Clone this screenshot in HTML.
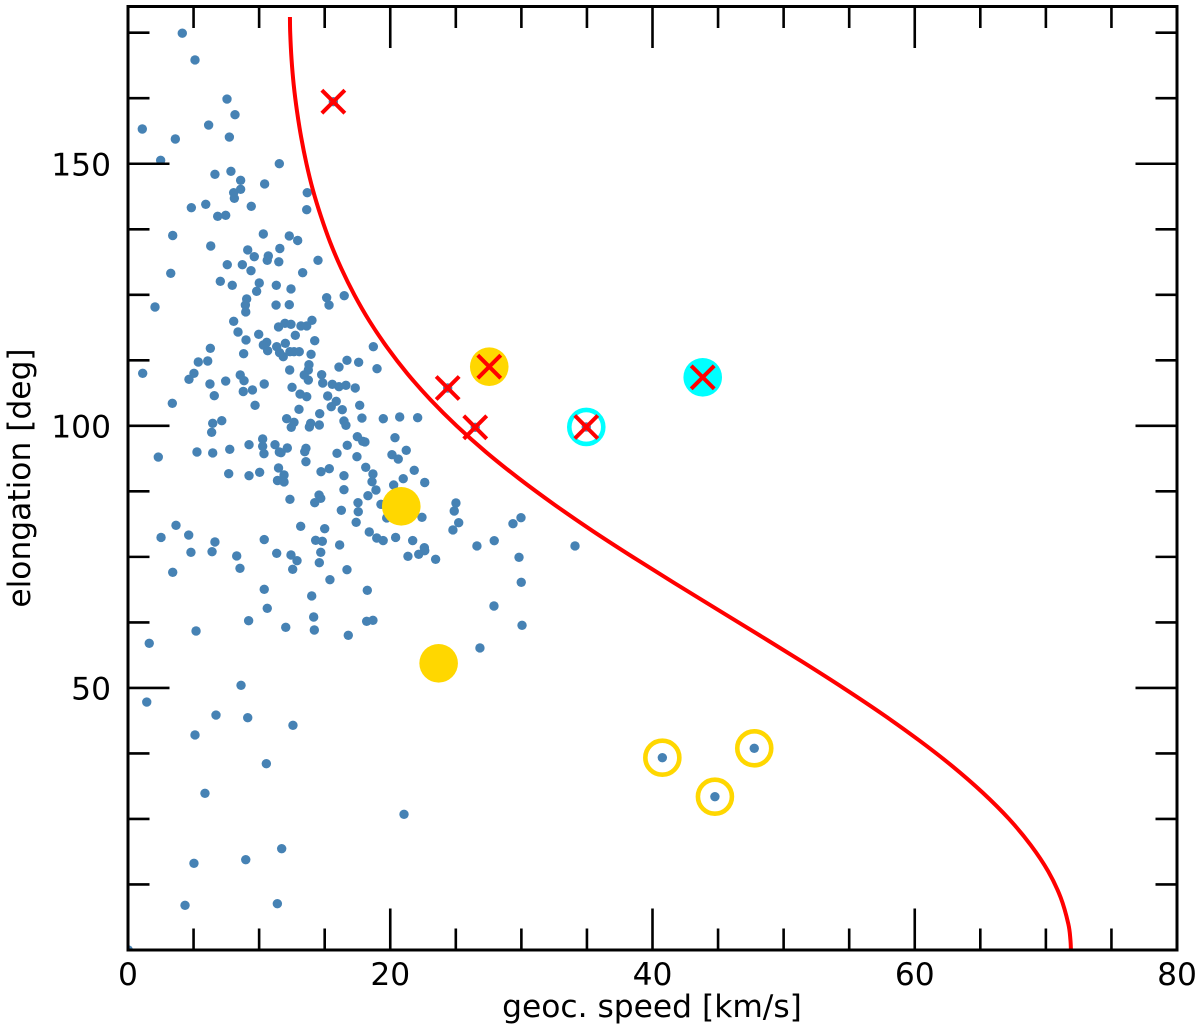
<!DOCTYPE html>
<html lang="en">
<head>
<meta charset="utf-8">
<title>Elongation versus geocentric speed</title>
<style>
html,body{margin:0;padding:0;background:#fff;width:1200px;height:1030px;overflow:hidden}
svg{display:block}
text{font-family:"DejaVu Sans","Liberation Sans",sans-serif;font-size:31.3px;fill:#000}
</style>
</head>
<body>
<svg id="chart" xmlns="http://www.w3.org/2000/svg" width="1200" height="1030" viewBox="0 0 1200 1030">
  <defs>
    <clipPath id="plot-clip"><rect x="128" y="6.5" width="1049" height="943.5"></rect></clipPath>
  </defs>
  <rect x="0" y="0" width="1200" height="1030" fill="#fff"></rect>
  <g id="meteors" clip-path="url(#plot-clip)"></g>
  <g id="highlights" clip-path="url(#plot-clip)"></g>
  <path id="limit" fill="none" stroke="#ff0000" stroke-width="4" clip-path="url(#plot-clip)"></path>
  <g id="crosses"></g>
  <g id="ticks"></g>
  <rect x="128" y="6.5" width="1049" height="943.5" fill="none" stroke="#000" stroke-width="3"></rect>
  <g id="labels"></g>
  <text x="652" y="1017" text-anchor="middle">geoc. speed [km/s]</text>
  <text transform="translate(30,478) rotate(-90)" text-anchor="middle">elongation [deg]</text>
</svg>
<script>
const xTickLabels = [0, 20, 40, 60, 80];
const yTickLabels = [50, 100, 150];
const xMinorTicks = [5, 10, 15, 25, 30, 35, 45, 50, 55, 65, 70, 75];
const yMinorTicks = [12.5, 25, 37.5, 62.5, 75, 87.5, 112.5, 125, 137.5, 162.5, 175];

const speedValues = [
4.14,5.11,7.55,8.16,6.15,1.09,3.61,7.73,2.49,11.54,6.63,7.85,8.59,10.42,8.59,8.06,8.11,13.67,13.63,9.40,
5.93,4.83,6.84,7.45,3.41,10.32,12.30,12.94,15.66,6.31,9.13,9.63,10.70,10.62,11.58,11.50,7.57,8.72,9.38,3.26,
7.04,7.95,10.01,9.81,11.31,9.05,8.95,8.98,11.29,2.06,8.06,11.48,8.39,9.97,9.00,10.58,10.32,10.65,11.34,11.56,
6.28,8.82,6.08,5.36,5.03,4.65,1.12,8.56,8.85,6.25,7.45,10.39,8.79,9.49,14.49,13.32,12.43,15.15,15.33,16.49,
12.30,14.03,11.97,12.43,13.19,13.63,12.76,14.24,18.71,12.00,11.84,12.35,12.66,13.06,13.96,16.70,16.09,17.59,18.99,13.80,
13.75,13.44,13.75,12.33,14.77,14.85,15.58,16.09,16.62,17.33,12.51,6.58,3.38,9.69,7.15,6.46,6.38,10.27,9.23,10.27,
11.21,10.37,11.54,7.76,5.26,6.46,2.31,7.68,9.23,10.04,11.48,11.40,3.66,2.52,4.63,6.63,10.39,13.12,13.63,15.23,
15.88,15.50,16.34,17.67,13.04,14.62,17.84,19.47,20.72,22.09,12.10,12.66,12.45,13.93,13.83,14.59,16.47,16.62,17.49,18.07,
17.90,20.36,16.72,12.15,11.67,13.57,13.48,15.94,17.46,20.13,20.61,21.22,13.57,18.13,21.83,15.35,14.72,11.90,16.47,18.68,
20.99,18.61,11.90,22.63,20.26,18.91,16.47,18.30,12.35,14.57,14.70,14.24,17.54,19.29,17.56,16.27,19.73,22.42,17.40,13.17,
15.00,18.40,20.41,18.97,19.46,14.31,14.82,21.71,16.14,4.80,6.41,8.29,11.34,12.43,12.89,14.70,14.59,8.54,12.56,3.41,
16.70,15.40,10.39,14.01,10.62,14.16,9.20,12.03,14.21,5.19,16.80,1.62,8.62,1.43,6.71,9.13,12.58,5.11,10.55,5.87,
21.05,11.72,8.98,5.03,4.35,11.39,0.02,25.01,24.88,25.22,24.78,29.97,29.36,34.09,22.60,22.63,22.17,21.35,23.46,26.61,
27.93,29.82,29.99,18.25,27.91,18.68,18.20,30.05,26.84,24.38,26.48,34.95,40.75,47.76,44.76
];
const elongationValues = [
174.9,169.8,162.35,159.36,157.39,156.63,154.72,155.1,150.66,150.01,147.99,148.56,146.84,146.14,145.13,144.48,143.41,144.48,141.23,141.88,
142.27,141.62,139.97,140.17,136.31,136.6,136.22,135.36,161.84,134.31,133.55,132.27,132.4,131.58,133.83,131.3,130.74,130.74,129.6,129.1,
127.57,126.81,127.25,125.67,126.81,124.2,123.05,121.72,123.05,122.67,119.94,118.86,117.9,117.46,116.38,115.94,115.42,114.33,115.1,113.95,
114.79,113.76,112.37,112.18,110.02,108.88,110.02,109.7,108.61,107.98,108.55,107.98,106.55,106.84,131.58,129.22,126.11,124.45,123.05,124.83,
123.11,120.14,119.56,119.37,119.05,119.05,117.27,116.24,115.1,115.75,113.19,114.14,114.14,114.14,113.65,112.5,111.22,112.12,110.9,111.66,
110.65,109.7,108.74,110.65,109.76,108.17,107.92,107.47,107.73,107.22,107.35,105.75,104.3,103.92,100.98,100.48,98.77,97.49,96.4,96.1,
96.4,94.68,95.01,95.52,95.01,94.82,94.05,90.87,90.49,91.14,91.96,89.57,81.02,78.7,79.17,77.84,78.31,106.07,105.56,105.69,
104.68,103.65,103.08,103.92,103.15,102.32,101.49,101.36,101.69,101.55,101.36,100.68,99.72,100.48,99.78,100.16,100.92,100.1,97.93,96.92,
97.05,97.74,96.29,95.77,94.88,95.71,95.07,94.76,94.11,94.49,93.67,95.33,93.16,92.09,91.52,91.82,91.25,90.62,90.49,90.81,
89.91,89.34,89.29,89.19,88.71,87.76,87.82,86.67,85.98,86.8,86.18,85.34,85.34,85.03,83.62,83.89,82.42,82.55,81.6,80.83,
80.38,79.75,78.7,78.6,78.12,78.16,77.97,78.12,77.27,75.87,75.99,75.17,75.68,75.36,74.27,75.87,73.89,72.82,72.63,72.06,
72.55,70.65,68.81,67.54,65.19,63.53,62.82,61.56,61.05,60.86,60.04,58.51,50.5,47.31,44.83,44.32,42.87,41.02,35.54,29.9,
25.89,19.33,17.23,16.54,8.53,8.83,0,85.28,83.75,81.52,80.13,82.47,81.33,77.08,76.75,76.18,75.49,75.11,74.54,77.08,
78.09,74.92,70.15,68.62,65.63,62.9,62.71,61.95,57.62,107.22,99.72,99.78,36.69,38.48,29.25
];

const limitElongation = [0,2,5,10,15,20,25,30,35,40,45,50,55,60,65,70,75,80,85,90,95,100,105,110,115,120,125,130,135,140,145,150,155,160,165,170,175,178];
const limitSpeed = [71.91,71.87,71.71,71.13,70.18,68.85,67.19,65.19,62.90,60.33,57.54,54.55,51.42,48.19,44.93,41.67,38.48,35.40,32.50,29.79,27.30,25.06,23.06,21.29,19.75,18.41,17.26,16.27,15.42,14.71,14.10,13.61,13.21,12.89,12.64,12.47,12.37,12.35];

const goldDiscSpeed = [27.55, 20.84, 23.69];
const goldDiscElongation = [111.28, 84.65, 54.7];
const goldRingSpeed = [40.75, 47.76, 44.76];
const goldRingElongation = [36.69, 38.48, 29.25];
const cyanDiscSpeed = [43.83];
const cyanDiscElongation = [109.26];
const cyanRingSpeed = [34.95];
const cyanRingElongation = [99.78];
const crossSpeed = [15.66, 24.38, 26.48, 27.55, 34.95, 43.83];
const crossElongation = [161.84, 107.22, 99.72, 111.28, 99.78, 109.26];

const SVG_NS = 'http://www.w3.org/2000/svg';
const X0 = 128, X_PER_UNIT = 1049 / 80;
const Y0 = 950, Y_PER_UNIT = 943.5 / 180;
function sx(v) { return X0 + v * X_PER_UNIT; }
function sy(v) { return Y0 - v * Y_PER_UNIT; }
function make(tag, attrs, parent) {
  const el = document.createElementNS(SVG_NS, tag);
  for (const k in attrs) el.setAttribute(k, attrs[k]);
  parent.appendChild(el);
  return el;
}

const meteors = document.getElementById('meteors');
speedValues.forEach(function (s, i) {
  const el = make('circle', {cx: sx(s), cy: sy(elongationValues[i]), r: 4.7, fill: '#4682b4'}, meteors);
  
  
});

const highlights = document.getElementById('highlights');
goldDiscSpeed.forEach(function (s, i) {
  const el = make('circle', {cx: sx(s), cy: sy(goldDiscElongation[i]), r: 19.3, fill: '#ffd700'}, highlights);
  
  
});
goldRingSpeed.forEach(function (s, i) {
  const el = make('circle', {cx: sx(s), cy: sy(goldRingElongation[i]), r: 17, fill: 'none', stroke: '#ffd700', 'stroke-width': 4.6}, highlights);
  
  
});
cyanDiscSpeed.forEach(function (s, i) {
  const el = make('circle', {cx: sx(s), cy: sy(cyanDiscElongation[i]), r: 19.3, fill: '#00ffff'}, highlights);
  
  
});
cyanRingSpeed.forEach(function (s, i) {
  const el = make('circle', {cx: sx(s), cy: sy(cyanRingElongation[i]), r: 17, fill: 'none', stroke: '#00ffff', 'stroke-width': 4.6}, highlights);
  
  
});

// Smooth the read-off limit curve with a Catmull-Rom spline through its points.
const curvePts = limitSpeed.map(function (s, i) { return [sx(s), sy(limitElongation[i])]; });
let curvePath = 'M' + curvePts[0][0] + ' ' + curvePts[0][1];
for (let i = 0; i < curvePts.length - 1; i++) {
  const p0 = curvePts[Math.max(i - 1, 0)], p1 = curvePts[i], p2 = curvePts[i + 1], p3 = curvePts[Math.min(i + 2, curvePts.length - 1)];
  curvePath += ' C' + (p1[0] + (p2[0] - p0[0]) / 6) + ' ' + (p1[1] + (p2[1] - p0[1]) / 6) + ' ' +
    (p2[0] - (p3[0] - p1[0]) / 6) + ' ' + (p2[1] - (p3[1] - p1[1]) / 6) + ' ' + p2[0] + ' ' + p2[1];
}
document.getElementById('limit').setAttribute('d', curvePath);

const crosses = document.getElementById('crosses');
crossSpeed.forEach(function (s, i) {
  const cx = sx(s), cy = sy(crossElongation[i]), h = 11.5;
  const el = make('path', {d: 'M' + (cx - h) + ' ' + (cy - h) + 'L' + (cx + h) + ' ' + (cy + h) + 'M' + (cx - h) + ' ' + (cy + h) + 'L' + (cx + h) + ' ' + (cy - h), stroke: '#ff0000', 'stroke-width': 4, fill: 'none'}, crosses);
  
  
});

const ticks = document.getElementById('ticks');
const MAJOR = 41.5, MINOR = 21.5;
function xTick(v, len) {
  const x = sx(v);
  const bottom = make('line', {x1: x, x2: x, y1: 950, y2: 950 - len, stroke: '#000', 'stroke-width': 2.6}, ticks);
  
  
  const top = make('line', {x1: x, x2: x, y1: 6.5, y2: 6.5 + len, stroke: '#000', 'stroke-width': 2.6}, ticks);
  
  
}
function yTick(v, len) {
  const y = sy(v);
  const left = make('line', {x1: 128, x2: 128 + len, y1: y, y2: y, stroke: '#000', 'stroke-width': 2.6}, ticks);
  
  
  const right = make('line', {x1: 1177, x2: 1177 - len, y1: y, y2: y, stroke: '#000', 'stroke-width': 2.6}, ticks);
  
  
}
xMinorTicks.forEach(function (v) { xTick(v, MINOR); });
yMinorTicks.forEach(function (v) { yTick(v, MINOR); });
xTickLabels.forEach(function (v) { xTick(v, MAJOR); });
yTickLabels.forEach(function (v) { yTick(v, MAJOR); });

const labels = document.getElementById('labels');
xTickLabels.forEach(function (v) {
  const el = make('text', {x: sx(v), y: 985, 'text-anchor': 'middle'}, labels);
  el.textContent = String(v);
  
  
});
yTickLabels.forEach(function (v) {
  const el = make('text', {x: 111, y: sy(v) + 11.5, 'text-anchor': 'end'}, labels);
  el.textContent = String(v);
  
  
});
</script>
</body>
</html>
